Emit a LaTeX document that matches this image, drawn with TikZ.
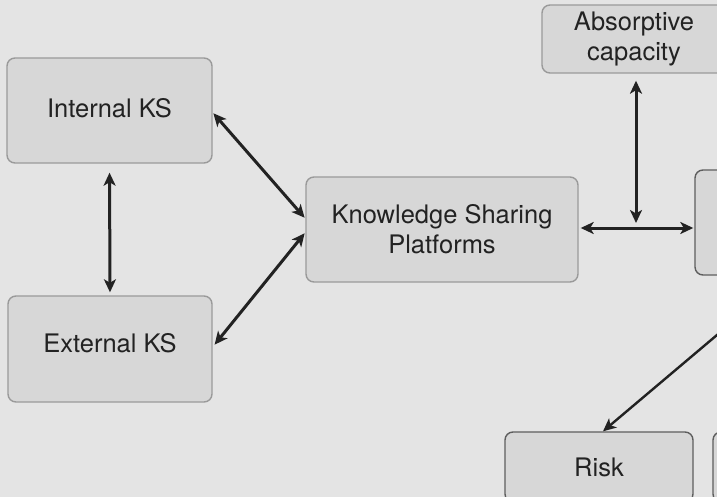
\documentclass[tikz,border=0pt]{standalone}
\usepackage{fontspec}
\setmainfont{TeX Gyre Heros}
\usetikzlibrary{arrows.meta,calc}
\definecolor{bg}{HTML}{E4E4E4}
\definecolor{boxfill}{HTML}{D7D7D7}
\definecolor{boxline}{HTML}{9A9A9A}
\definecolor{darkline}{HTML}{5E5E5E}
\definecolor{ink}{HTML}{222222}
\tikzset{
  kbox/.style={draw=boxline, line width=1.4pt, fill=boxfill, rounded corners=8pt,
    inner sep=0pt, align=center, text=ink, font=\fontsize{25.5}{30}\selectfont},
  kdark/.style={kbox, draw=darkline},
  ktip/.tip={Stealth[length=13pt,width=12pt,inset=3.5pt]},
  link/.style={draw=ink, line width=3pt, ktip-ktip},
  onelink/.style={draw=ink, line width=2.4pt, -ktip}
}
\begin{document}
\begin{tikzpicture}[x=1pt,y=-1pt]
\useasboundingbox (0,0) rectangle (717,497);
\fill[bg] (0,0) rectangle (717,497);
\clip (0,0) rectangle (717,497);
\node[kbox, minimum width=205pt, minimum height=105pt] (int) at (109.5,110.5) {\raisebox{6pt}{Internal KS}};
\node[kbox, minimum width=204pt, minimum height=106pt] (ext) at (110,349) {\raisebox{12pt}{External KS}};
\node[kbox, minimum width=272pt, minimum height=105pt] (ksp) at (442,229.5) {Knowledge Sharing\\Platforms};
\node[kbox, minimum width=184pt, minimum height=68pt] (abs) at (634,39) {Absorptive\\capacity};
\node[kdark, minimum width=200pt, minimum height=105pt] (rb) at (795,222.5) {};
\node[kdark, minimum width=188pt, minimum height=70pt] (risk) at (599,467) {Risk};
\node[kdark, minimum width=200pt, minimum height=70pt] (rb2) at (813,467) {};
\coordinate (offr) at (730,324);
\draw[link, shorten <=9pt, shorten >=3pt] (int.south) -- (ext.north);
\draw[link, shorten <=1pt, shorten >=1pt] ([yshift=-2pt]int.east) -- ([yshift=11pt]ksp.west);
\draw[link, shorten <=3pt, shorten >=1pt] ([yshift=2pt]ext.east) -- ([yshift=-3pt]ksp.west);
\coordinate (kr) at ($(ksp.east)+(0,-1.5)$);
\draw[link, shorten <=2pt, shorten >=1pt] (kr) -- (kr -| rb.west);
\draw[link, shorten <=7pt, shorten >=5pt] ([xshift=2pt]abs.south) -- ([xshift=2pt]abs.south |- kr);
\draw[onelink] (offr) -- ([xshift=4pt]risk.north);
\end{tikzpicture}
\end{document}
